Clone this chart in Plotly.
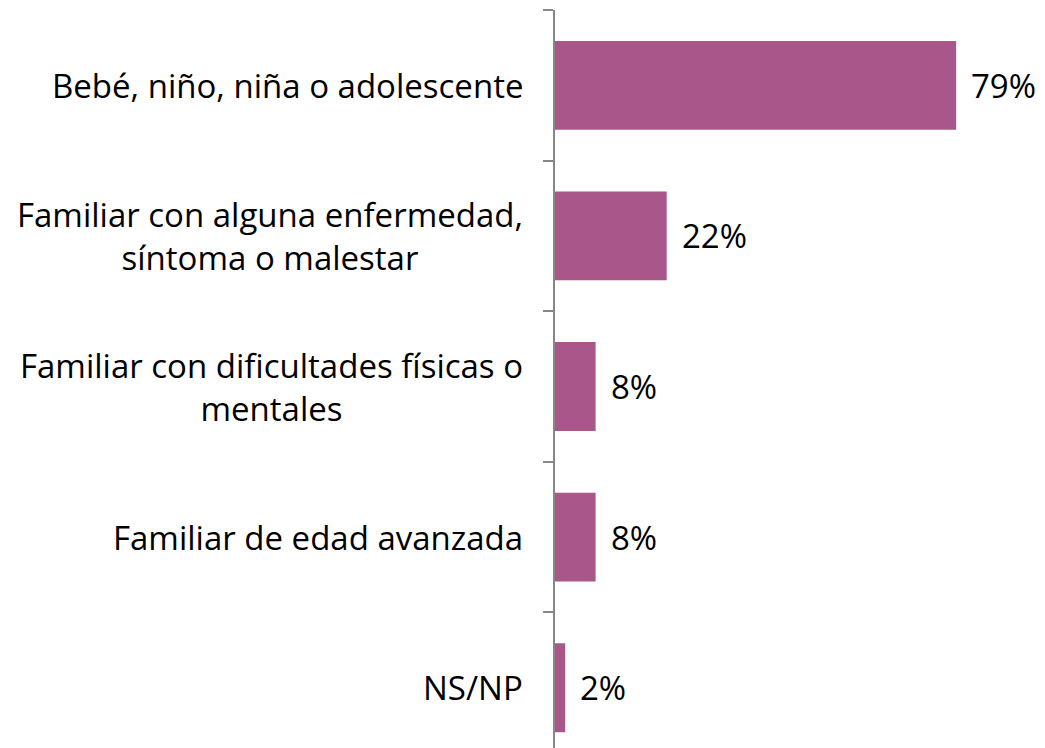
import plotly.graph_objects as go

categories = [
    "Bebé, niño, niña o adolescente",
    "Familiar con alguna enfermedad,<br>síntoma o malestar",
    "Familiar con dificultades físicas o<br>mentales",
    "Familiar de edad avanzada",
    "NS/NP",
]
values = [0.79, 0.22, 0.08, 0.08, 0.02]
value_labels = ["79%", "22%", "8%", "8%", "2%"]

BAR = "#A9578B"
FONT = "'Open Sans', sans-serif"
FS = 33

fig = go.Figure()
fig.add_trace(go.Bar(
    y=list(range(len(categories))), x=values, orientation="h",
    marker=dict(color=BAR, line=dict(width=0)), width=0.59,
    hoverinfo="skip",
))

annotations = []
for i, (c, v, lab) in enumerate(zip(categories, values, value_labels)):
    annotations.append(dict(x=v, y=i, xref="x", yref="y", text=lab, showarrow=False,
                            xanchor="left", xshift=13, font=dict(family=FONT, size=FS, color="#000")))
    annotations.append(dict(x=0, y=i, xref="paper", yref="y", text=c, showarrow=False,
                            xanchor="right", xshift=-30, align="center",
                            font=dict(family=FONT, size=FS, color="#000")))

fig.update_layout(
    width=1045, height=748,
    margin=dict(l=547, r=41, t=2, b=0),
    paper_bgcolor="white", plot_bgcolor="white",
    showlegend=False,
    annotations=annotations,
    xaxis=dict(range=[0, 0.9], visible=False, fixedrange=True),
    yaxis=dict(range=[4.453, -0.5], tickmode="array", tickvals=[-0.5, 0.5, 1.5, 2.5, 3.5, 4.5],
               ticktext=[""] * 6, showticklabels=False,
               ticks="outside", ticklen=10, tickwidth=2, tickcolor="#868686",
               showline=True, linecolor="#868686", linewidth=2, showgrid=False, zeroline=False),
)
fig.write_html("out.html")
